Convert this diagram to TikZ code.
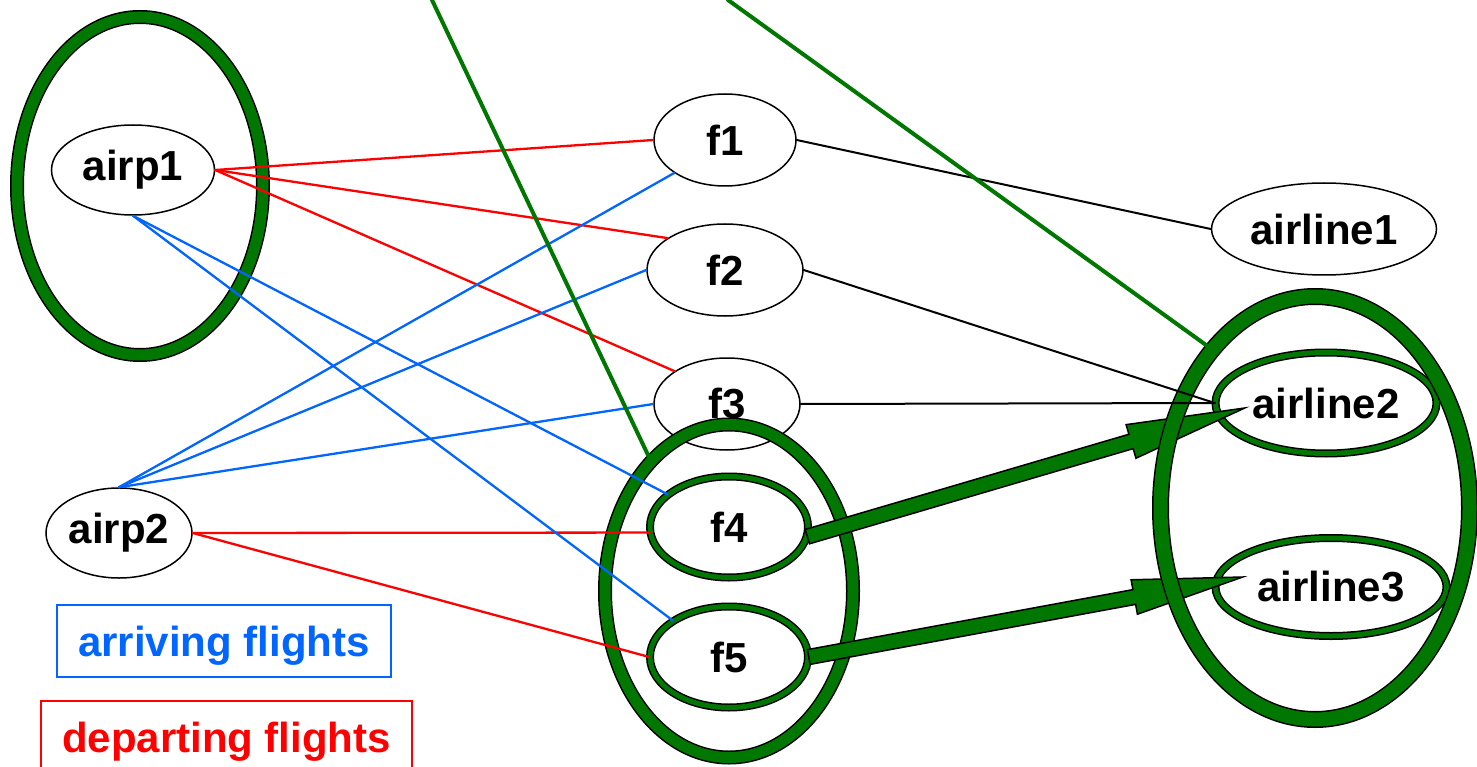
\documentclass[tikz,border=0pt]{standalone}
\usepackage{fontspec}
\setmainfont{Liberation Sans}
\usetikzlibrary{shapes.geometric,calc}
\definecolor{grpgreen}{RGB}{0,119,0}
\definecolor{arrblue}{RGB}{0,102,255}
\definecolor{depred}{RGB}{255,0,0}
\begin{document}
\begin{tikzpicture}[x=1pt, y=-1pt, line cap=round,
  lbl/.style={font=\fontsize{42}{50}\selectfont\bfseries},
  item/.style={ellipse, draw=black, line width=1.5pt, fill=white, inner sep=0pt, lbl},
  chosen/.style={item, double=grpgreen, double distance=5pt},
  grp/.style={ellipse, draw=black, line width=1.5pt, double=grpgreen, double distance=#1, inner sep=0pt},
  arr/.style={draw=arrblue, line width=2.3pt},
  dep/.style={draw=depred, line width=2.3pt},
  own/.style={draw=black, line width=2pt},
  sel/.style={draw=grpgreen, line width=4pt},
  fatarrow/.style={fill=grpgreen, draw=black, line width=1.5pt, line join=miter},
  legend/.style={rectangle, line width=2.5pt, inner sep=0pt, text depth=0pt, minimum height=72pt, lbl}]
\useasboundingbox (0,0) rectangle (1477,767);
\clip (0,0) rectangle (1477,767);
\node[grp=11pt, minimum width=246pt, minimum height=338pt] (airpgrp) at (140,186) {};
\node[item, minimum width=163pt, minimum height=90pt] (airp1) at (133,170) {airp1};
\node[item, minimum width=146pt, minimum height=90pt] (airp2) at (119,533) {airp2};
\node[item, minimum width=142pt, minimum height=92pt] (f1) at (725,140) {f1};
\node[item, minimum width=156pt, minimum height=92pt] (f2) at (725,270) {f2};
\node[item, minimum width=146pt, minimum height=92pt] (f3) at (727,404) {f3};
\node[grp=11pt, minimum width=248pt, minimum height=333pt] (fgrp) at (729,591) {};
\node[chosen, minimum width=158pt, minimum height=101pt] (f4) at (729,527) {f4};
\node[chosen, minimum width=158pt, minimum height=101pt] (f5) at (729,657) {f5};
\node[item, minimum width=225pt, minimum height=92pt] (airline1) at (1324,229) {airline1};
\node[chosen, minimum width=221pt, minimum height=101pt] (airline2) at (1326,403) {airline2};
\node[chosen, minimum width=231pt, minimum height=98pt] (airline3) at (1331,587) {airline3};
\foreach \t in {f1.west, f2.151, f3.148} \draw[dep] (airp1.east) -- (\t);
\foreach \t in {f4.184, f5.west} \draw[dep] (airp2.east) -- (\t);
\foreach \t in {f4.152, f5.147} \draw[arr] (airp1.south) -- (\t);
\foreach \t in {f1.213, f2.west, f3.west} \draw[arr] (airp2.north) -- (\t);
\coordinate (t4) at ($(airline2.west)+(30,5)$);
\coordinate (t5) at ($(airline3.west)+(28,-10)$);
\foreach \s/\t/\p in {f4.-7/t4/0.74, f5.east/t5/0.75}{
  \coordinate (b) at ($(\s)!\p!(\t)$);
  \filldraw[fatarrow] ($(\s)!7.5pt!90:(\t)$) -- ($(b)!7.5pt!90:(\t)$) -- ($(b)!17.5pt!90:(\t)$) -- (\t)
    -- ($(b)!17.5pt!-90:(\t)$) -- ($(b)!7.5pt!-90:(\t)$) -- ($(\s)!7.5pt!-90:(\t)$) -- cycle;
}
\node[grp=14pt, minimum width=309pt, minimum height=423pt] (agrp) at (1315,508) {};
\draw[own] (f1.east) -- (airline1.west);
\draw[own] (f2.east) -- (airline2.west);
\draw[own] (f3.east) -- (airline2.west);
\coordinate (top1) at (432,0);
\coordinate (top2) at (728,0);
\draw[sel] (top1) -- (fgrp.121);
\draw[sel] (top2) -- (agrp.123);
\node[legend, draw=arrblue, text=arrblue, minimum width=334pt] (arrkey) at (224,641) {arriving flights};
\node[legend, draw=depred, text=depred, minimum width=371pt] (depkey) at (226.5,737) {departing flights};
\end{tikzpicture}
\end{document}
